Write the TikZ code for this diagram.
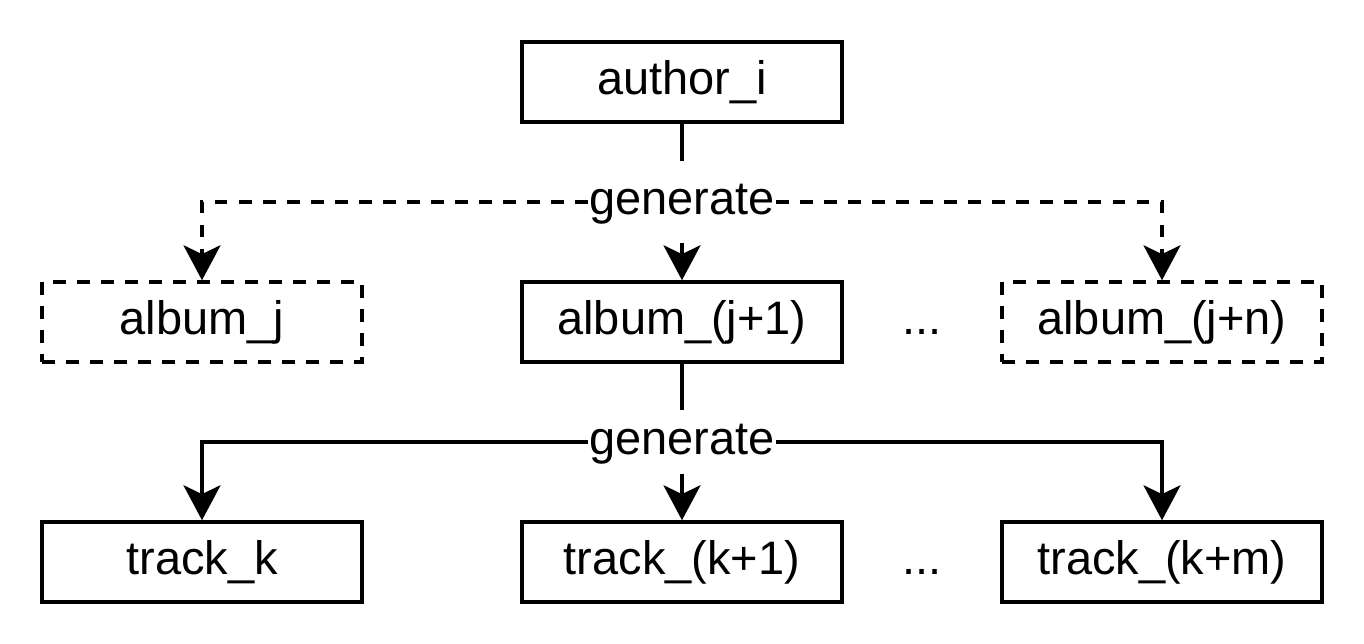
\documentclass[tikz,border=0pt]{standalone}
\usepackage{fontspec}
\setmainfont{Liberation Sans}
\usetikzlibrary{arrows.meta}

\begin{document}
\begin{tikzpicture}[x=0.025cm, y=-0.025cm, line width=0.085cm,
  every node/.style={font=\fontsize{33.4}{40}\selectfont},
  box/.style={draw, minimum width=8cm, minimum height=2cm, inner sep=0pt,
    text height=0.88cm, text depth=0.235cm},
  dashline/.style={dash pattern=on 0.32cm off 0.28cm},
  ghost/.style={box, dashline},
  dots/.style={inner sep=0pt, text height=0.88cm, text depth=0.235cm},
  gen/.style={inner xsep=0pt, inner ysep=0.19cm, text height=0.88cm, text depth=0.235cm},
  tip/.style={-{Stealth[length=0.875cm, width=0.925cm, inset=0.22cm]}}]
  \useasboundingbox (0,0) rectangle (1364,644);

  % top level
  \node[box] (author) at (682,82) {author\_i};

  % albums
  \node[ghost] (albj)  at (202,322)  {album\_j};
  \node[box]   (albj1) at (682,322)  {album\_(j+1)};
  \node[dots]  (adots) at (922,322)  {...};
  \node[ghost] (albjn) at (1162,322) {album\_(j+n)};

  % tracks
  \node[box]  (trk)   at (202,562)  {track\_k};
  \node[box]  (trk1)  at (682,562)  {track\_(k+1)};
  \node[dots] (tdots) at (922,562)  {...};
  \node[box]  (trkm)  at (1162,562) {track\_(k+m)};

  % edge labels
  \node[gen, inner ysep=0.43cm] (gen1) at (682,202) {generate};
  \node[gen] (gen2) at (682,442) {generate};

  % author -> albums
  \draw (author) -- (gen1);
  \draw[tip] (gen1) -- (albj1);
  \draw[tip, dashline] (gen1.west) -| (albj);
  \draw[tip, dashline] (gen1.east) -| (albjn);

  % album -> tracks
  \draw (albj1) -- (gen2);
  \draw[tip] (gen2) -- (trk1);
  \draw[tip] (gen2.west) -| (trk);
  \draw[tip] (gen2.east) -| (trkm);
\end{tikzpicture}
\end{document}
